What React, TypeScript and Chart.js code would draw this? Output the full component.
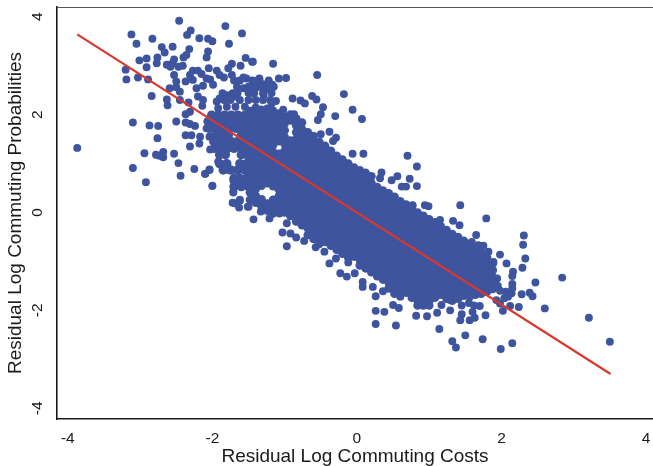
import React, { useEffect, useRef } from "react";
import { Chart, registerables } from "chart.js";

Chart.register(...registerables);

const fitLineX = [-3.87, 3.51];
const fitLineY = [3.64, -3.3];
const xTicks = [-4, -2, 0, 2, 4];
const yTicks = [-4, -2, 0, 2, 4];

const upperLeftPoints: number[][] = [
[-3.87,1.32],[-3.10,1.84],[-2.87,1.78],[-2.75,1.77],[-2.76,1.52],[-2.94,1.21],[-3.10,0.91],[-2.92,0.62],[-2.78,1.18],[-2.73,1.16],[-2.68,1.24],[-2.68,1.13],[-2.53,1.20],[-2.47,1.01],[-2.44,0.75],[-2.25,0.89],[-2.10,0.79],[-2.04,0.87],[-2.00,0.54],[-2.84,2.38],[-3.19,2.72],[-3.20,2.92],[-3.03,2.76],[-2.89,2.72],[-3.01,3.11],[-2.91,3.15],[-2.91,2.97],[-2.76,3.17],[-2.77,3.05],[-3.12,3.64],[-3.05,3.45],[-2.83,3.55],[-2.70,3.38],[-2.66,3.27],[-2.55,3.39],[-2.46,3.92],[-2.35,3.63],[-2.30,3.72],[-2.18,3.56],[-2.06,3.55],[-2.00,3.50],[-1.82,3.81],[-1.59,3.66],[-1.77,3.45],[-2.32,3.34],[-2.36,3.22],[-2.06,3.29],[-2.08,3.17],[-2.40,3.17],[-2.53,3.13],[-2.55,3.05],[-2.63,3.02],[-2.58,2.98],[-2.47,2.98],[-2.41,3.00],[-2.05,2.95],[-1.54,3.16],[-1.45,3.08],[-1.61,3.00],[-1.73,3.04],[-1.78,2.95],[-1.94,2.90],[-1.90,2.81],[-1.84,2.76],[-1.73,2.81],[-1.57,2.76],[-1.53,2.74],[-1.35,2.72],[-2.27,2.90],[-2.20,2.90],[-2.31,2.81],[-2.15,2.83],[-2.53,2.81],[-2.50,2.68],[-2.37,2.68],[-2.27,2.71],[-2.08,2.74],[-2.03,2.72],[-2.59,2.54],[-2.50,2.56],[-2.45,2.47],[-2.22,2.54],[-2.13,2.59],[-1.99,2.61],[-2.63,2.31],[-2.62,2.19],[-2.45,2.30],[-2.33,2.25],[-2.20,2.37],[-2.13,2.30],[-2.14,2.18],[-1.90,2.33],[-1.80,2.40],[-1.94,2.27],[-1.69,2.37],[-1.57,2.54],[-1.43,2.47],[-1.30,2.57],[-2.31,2.06],[-2.37,2.01],[-2.50,1.86],[-2.37,1.84],[-2.31,1.81],[-2.24,1.77],[-2.37,1.58],[-2.29,1.58],[-2.31,1.35],[-2.17,1.55],[-2.18,1.41],[-2.04,1.55],[-1.99,1.45],[-2.03,1.29],[-2.08,1.72],[-1.92,1.04],[-1.83,0.87],[-1.69,0.63],[-1.71,0.43],[-1.69,0.19],[-1.62,0.26],[-1.50,0.12]
];

const clusterAboveBreak: number[][] = [
[-1.84,2.3],[-1.75,2.3],[-1.62,2.3],[-1.5,2.3],[-1.4,2.3],[-1.3,2.3],[-1.2,2.3],
[-1.86,2.44],[-1.72,2.44],[-1.65,2.44],[-1.5,2.44],[-1.42,2.44],[-1.3,2.44],[-1.18,2.44],
[-1.66,2.57],[-1.5,2.57],[-1.45,2.57],[-1.35,2.57],[-1.25,2.57],[-1.15,2.57],
[-1.7,2.7],[-1.62,2.7],[-1.45,2.7],[-1.22,2.7],
[-1.8,2.16],[-1.68,2.16],[-1.55,2.16],[-1.92,2.13]
];

const clusterNearBreak: number[][] = [
[-2.01,1.99],[-1.92,1.99],[-1.83,1.99],[-1.74,1.99],[-1.65,1.99],[-1.55,1.99],[-1.46,1.99],[-1.37,1.99],[-1.28,1.99],
[-2.06,1.86],[-1.97,1.86],[-1.87,1.86],[-1.78,1.86],[-1.69,1.86],[-1.6,1.86],[-1.5,1.86],[-1.41,1.86],[-1.32,1.86],[-1.23,1.86],
[-2.04,1.72],[-1.94,1.72],[-1.85,1.72],[-1.76,1.72],[-1.67,1.72],[-1.58,1.72],[-1.48,1.72],[-1.39,1.72],[-1.3,1.72],
[-1.96,1.58],[-1.87,1.58],[-1.78,1.58],[-1.6,1.58],[-1.5,1.58],[-1.41,1.58],[-1.32,1.58],[-1.23,1.58],
[-1.92,1.45],[-1.83,1.45],[-1.74,1.45],[-1.65,1.45],[-1.55,1.45],[-1.46,1.45],[-1.37,1.45],[-1.28,1.45],
[-1.97,1.31],[-1.88,1.31],[-1.79,1.31],[-1.7,1.31],[-1.6,1.31],[-1.51,1.31],[-1.42,1.31],[-1.33,1.31],
[-1.9,1.18],[-1.82,1.18],[-1.6,1.18],[-1.52,1.18],[-1.43,1.18],[-1.34,1.18],
[-1.9,1.0],[-1.8,1.0],[-1.62,1.0],[-1.53,1.0],[-1.44,1.0],[-1.35,1.0],
[-1.85,0.87],[-1.75,0.87],[-1.65,0.87],[-1.55,0.87],[-1.46,0.87],[-1.37,0.87],
[-1.7,0.7],[-1.62,0.7],[-1.53,0.7],[-1.44,0.7],
[-1.7,0.53],[-1.6,0.53],[-1.5,0.53],[-1.42,0.53]
];

const upperEdgePoints: number[][] = [
[-1.16,3.04],[-1.44,3.08],[-0.55,2.81],[-0.98,2.75],[-1.08,2.74],[-1.35,2.74],[-1.40,2.69],[-1.30,2.62],[-1.17,2.61],[-1.25,2.52],[-1.41,2.54],[-1.44,2.44],[-1.29,2.40],[-0.89,2.33],[-0.78,2.29],[-0.72,2.23],[-0.62,2.38],[-0.56,2.31],[-0.18,2.42],[-0.06,2.10],[0.07,1.91],[-0.30,1.97],[-0.47,2.15],[-0.50,2.01],[-0.54,1.89],[-1.12,2.28],[-1.18,2.23],[-1.02,2.10],[-0.87,2.01],[-0.77,1.82],[-0.50,1.60],[-0.38,1.65],[-0.29,1.53],[-0.33,1.46],[0.09,1.20],[-0.06,1.20],[0.70,1.16],[0.83,0.94],
[0.34,0.82],[0.32,0.70],[0.56,0.74],[0.48,0.66],[0.73,0.69],[0.62,0.53],[0.68,0.53],[0.83,0.54],[0.77,0.14],[0.77,0.15],[0.94,0.15],[0.99,0.13],[1.43,0.15],[1.79,-0.12],[1.15,-0.15],[1.33,-0.17],[1.42,-0.26],[1.65,-0.46],[1.59,-0.60],[1.56,-0.67],[1.68,-0.67],[1.75,-0.68],[1.82,-0.80],[1.98,-0.86],[1.89,-1.01],[2.07,-1.04]
];

const lowerEdgePoints: number[][] = [
[-0.97,-0.69],[-1.03,-0.41],[-0.97,-0.22],[-0.92,-0.43],[-0.84,-0.51],[-0.73,-0.58],[-1.43,-0.14],[-1.33,0.02],[-1.51,0.12],[-1.63,0.10],[-1.72,0.20],[-1.62,0.24],[-2.00,0.55],[-2.10,0.79],[-2.04,0.88],[-1.71,0.41],[-1.71,0.66],[-1.56,0.6],[-1.21,-0.12],[-1.07,-0.02],[-0.57,-0.71],[-0.45,-0.80],[-0.38,-1.04],[-0.29,-0.94],[-0.12,-1.02],[-0.23,-1.24],[-0.14,-1.31],[-0.03,-1.24],[0.08,-1.52],[0.08,-1.42],[0.22,-1.52],[0.26,-1.71],[0.36,-1.61],[0.26,-2.01],[0.38,-2.03],[0.26,-2.28],[0.54,-2.31],[0.58,-1.95],[0.50,-1.89],[0.82,-2.11],[0.60,-1.72],[0.78,-1.72],[0.97,-2.12],[1.11,-2.05],[1.17,-1.89],[1.29,-2.0],[1.29,-1.79],[1.14,-2.38],[1.32,-2.63],[1.37,-2.76],[1.50,-2.51],[1.74,-2.59],[1.99,-2.79],[2.15,-2.67],[1.43,-2.20],[1.45,-2.08],[1.56,-2.20],[1.60,-2.03],[1.63,-2.15],[1.70,-1.91],[1.78,-2.10],[1.45,-1.9],[1.55,-1.85],[1.62,-1.9]
];

const lowerRightPoints: number[][] = [
[3.50,-2.64],[3.21,-2.15],[2.84,-1.33],[2.60,-1.96],[2.47,-1.43],[2.43,-1.71],[2.39,-1.64],[2.28,-1.67],[2.24,-1.93],[2.33,-0.94],[2.29,-1.13],[2.30,-0.66],[2.31,-0.47],[2.16,-1.21],[2.15,-1.30],[2.15,-1.46],[2.15,-1.55],[2.14,-1.65],[2.09,-1.72],[2.06,-1.62],[2.12,-1.91],[2.02,-2.01],[1.98,-1.86],[1.93,-1.79],[1.94,-1.35],[1.95,-1.5],[1.98,-1.6],[2.04,-1.75]
];

const coreColumnX = [-1.48,-1.4,-1.32,-1.24,-1.16,-1.08,-1,-0.92,-0.84,-0.76,-0.68,-0.6,-0.52,-0.44,-0.36,-0.28,-0.2,-0.12,-0.04,0.04,0.12,0.2,0.28,0.36,0.44,0.52,0.6,0.68,0.76,0.84,0.92,1,1.08,1.16,1.24,1.32,1.4,1.48,1.56,1.64,1.72,1.8,1.88];
const coreColumnY: number[][] = [
[2.07,1.93,1.8,1.52,1.39,1.24,1.11,0.97,0.83,0.54,0.41,0.26],
[2.14,2,1.86,1.73,1.59,1.45,1.31,1.17,1.04,0.9,0.76,0.62,0.48,0.34,0.2],
[2.1,1.96,1.81,1.68,1.54,1.4,1.25,1.12,0.98,0.83,0.7,0.55,0.27,0.13],
[2.12,1.99,1.85,1.71,1.57,1.43,1.3,1.16,1.02,0.88,0.74,0.6,0.18,0.04],
[2.08,1.93,1.8,1.65,1.52,1.38,1.24,1.09,0.96,0.81,0.68,0.54,0.26,0.12,-0.02],
[2.02,1.88,1.74,1.6,1.46,1.2,1.03,0.89,0.75,0.61,0.47,0.33,0.19,0.05],
[1.96,1.82,1.68,1.54,1.4,1.26,1.12,0.98,0.84,0.7,0.56,0.42,0.28,0.14,0],
[2,1.88,1.47,1.33,1.19,1.05,0.91,0.77,0.63,0.49,0.35,0.21,0.07,-0.07],
[1.92,1.78,1.64,1.5,1.36,1.22,1.08,0.94,0.8,0.66,0.52,0.38,0.24,0.1,-0.04,-0.18],
[1.84,1.7,1.56,1.42,1.28,1.14,1,0.86,0.72,0.58,0.44,0.3,0.16,0.02,-0.12,-0.26],
[1.64,1.5,1.36,1.22,1.08,0.94,0.8,0.66,0.52,0.38,0.24,0.1,-0.04,-0.18,-0.32,-0.46],
[1.56,1.42,1.28,1.14,1,0.86,0.72,0.58,0.44,0.3,0.16,0.02,-0.12,-0.26,-0.4,-0.54],
[1.44,1.3,1.16,1.02,0.88,0.74,0.6,0.46,0.32,0.18,0.04,-0.1,-0.24,-0.38,-0.52,-0.64],
[1.36,1.22,1.08,0.94,0.8,0.66,0.52,0.38,0.24,0.1,-0.04,-0.18,-0.32,-0.46,-0.6],
[1.26,1.12,0.98,0.84,0.7,0.56,0.42,0.28,0.14,0,-0.14,-0.28,-0.42,-0.56,-0.68],
[1.16,1.02,0.88,0.74,0.6,0.46,0.32,0.18,0.04,-0.1,-0.24,-0.38,-0.52,-0.66,-0.76],
[1.08,0.94,0.8,0.66,0.52,0.38,0.24,0.1,-0.04,-0.18,-0.32,-0.46,-0.6,-0.74,-0.84],
[1,0.86,0.72,0.58,0.44,0.3,0.16,0.02,-0.12,-0.26,-0.4,-0.54,-0.68,-0.82,-0.92],
[0.92,0.78,0.64,0.5,0.36,0.22,0.08,-0.06,-0.2,-0.34,-0.48,-0.62,-0.76,-0.9],
[0.86,0.72,0.58,0.44,0.3,0.16,0.02,-0.12,-0.26,-0.4,-0.54,-0.68,-0.82,-0.96,-1.08],
[0.81,0.67,0.53,0.39,0.25,0.11,-0.03,-0.17,-0.31,-0.45,-0.59,-0.73,-0.87,-1.01,-1.14],
[0.74,0.6,0.46,0.32,0.18,0.04,-0.1,-0.24,-0.38,-0.52,-0.66,-0.8,-0.94,-1.08,-1.22],
[0.52,0.38,0.24,0.1,-0.04,-0.18,-0.32,-0.46,-0.6,-0.74,-0.88,-1.02,-1.16,-1.3],
[0.45,0.31,0.17,0.03,-0.11,-0.25,-0.39,-0.53,-0.67,-0.81,-0.95,-1.09,-1.23,-1.37],
[0.39,0.25,0.11,-0.03,-0.17,-0.31,-0.45,-0.59,-0.73,-0.87,-1.01,-1.15,-1.29,-1.43,-1.55],
[0.32,0.18,0.04,-0.1,-0.24,-0.38,-0.52,-0.66,-0.8,-0.94,-1.08,-1.22,-1.36,-1.5,-1.66],
[0.23,0.09,-0.05,-0.19,-0.33,-0.47,-0.61,-0.75,-0.89,-1.03,-1.17,-1.31,-1.45,-1.59],
[0.16,0.02,-0.12,-0.26,-0.4,-0.54,-0.68,-0.82,-0.96,-1.1,-1.24,-1.38,-1.52,-1.64],
[0.08,-0.06,-0.2,-0.34,-0.48,-0.62,-0.76,-0.9,-1.04,-1.18,-1.32,-1.46,-1.6,-1.74],
[0,-0.14,-0.28,-0.42,-0.56,-0.7,-0.84,-0.98,-1.12,-1.26,-1.4,-1.54,-1.68,-1.8,-1.9],
[-0.07,-0.21,-0.35,-0.49,-0.63,-0.77,-0.91,-1.05,-1.19,-1.33,-1.47,-1.61,-1.75,-1.9],
[-0.14,-0.28,-0.42,-0.56,-0.7,-0.84,-0.98,-1.12,-1.26,-1.4,-1.54,-1.68,-1.82,-1.9],
[-0.2,-0.34,-0.48,-0.62,-0.76,-0.9,-1.04,-1.18,-1.32,-1.46,-1.6,-1.74],
[-0.28,-0.42,-0.56,-0.7,-0.84,-0.98,-1.12,-1.26,-1.4,-1.54,-1.68],
[-0.36,-0.5,-0.64,-0.78,-0.92,-1.06,-1.2,-1.34,-1.48,-1.62,-1.76],
[-0.44,-0.58,-0.72,-0.86,-1,-1.14,-1.28,-1.42,-1.56,-1.7,-1.8],
[-0.5,-0.64,-0.78,-0.92,-1.06,-1.2,-1.34,-1.48,-1.62,-1.76],
[-0.58,-0.72,-0.86,-1,-1.14,-1.28,-1.42,-1.56,-1.7],
[-0.68,-0.82,-0.96,-1.1,-1.24,-1.38,-1.52,-1.66,-1.72],
[-0.74,-0.88,-1.02,-1.16,-1.3,-1.44,-1.58,-1.68],
[-0.82,-0.96,-1.1,-1.24,-1.38,-1.52,-1.66],
[-0.92,-1.06,-1.2,-1.34,-1.48,-1.62],
[-1.04,-1.18,-1.32,-1.46,-1.56]
];

const coreFromColumns = coreColumnX.flatMap((x, i) => coreColumnY[i].map((y) => ({ x, y })));
const fromPairs = (rows: number[][]) => rows.map(([x, y]) => ({ x, y }));
const commuters = [
  ...fromPairs(upperLeftPoints),
  ...fromPairs(clusterAboveBreak),
  ...fromPairs(upperEdgePoints),
  ...fromPairs(lowerEdgePoints),
  ...fromPairs(lowerRightPoints),
];
const fitLine = fitLineX.map((x, i) => ({ x, y: fitLineY[i] }));

const FONT = "'Liberation Sans', Arial, sans-serif";
const INK = "#1a1a1a";
const DOT = "#3e549e";

const framePlugin = {
  id: "frame",
  afterDraw(chart: any) {
    const { ctx, chartArea: a } = chart;
    ctx.save();
    ctx.strokeStyle = "#555555";
    ctx.lineWidth = 1;
    ctx.beginPath();
    ctx.moveTo(a.left, a.top + 0.5);
    ctx.lineTo(a.right, a.top + 0.5);
    ctx.stroke();
    ctx.restore();
  },
};

const clearPadding = (s: any) => {
  s.paddingLeft = 0;
  s.paddingRight = 0;
  s.paddingTop = 0;
  s.paddingBottom = 0;
};

export default function App() {
  const ref = useRef<HTMLCanvasElement>(null);
  useEffect(() => {
    const chart = new Chart(ref.current!, {
      type: "scatter",
      data: {
        datasets: [
          { data: fitLine, showLine: true, borderColor: "#d8392f", borderWidth: 2.2, pointRadius: 0, order: 0 },
          { data: commuters, backgroundColor: DOT, borderWidth: 0, pointRadius: 3.95, order: 1 },
          { data: coreFromColumns, backgroundColor: DOT, borderWidth: 0, pointRadius: 4.35, order: 2 },
          { data: fromPairs(clusterNearBreak), backgroundColor: DOT, borderWidth: 0, pointRadius: 4.7, order: 3 },
        ],
      },
      options: {
        animation: false,
        responsive: false,
        devicePixelRatio: 1,
        layout: { autoPadding: false, padding: { top: 7, left: 0, right: 0, bottom: 0 } },
        plugins: { legend: { display: false }, tooltip: { enabled: false } },
        scales: {
          x: {
            type: "linear",
            min: -4.15,
            max: 4.097,
            afterFit: (s: any) => { s.height = 47; clearPadding(s); },
            afterBuildTicks: (s: any) => { s.ticks = xTicks.map((value) => ({ value })); },
            grid: { display: false, drawTicks: true, tickLength: 7, tickColor: INK, tickWidth: 1 } as any,
            border: { display: true, color: INK, width: 1.6 },
            ticks: { color: INK, font: { family: FONT, size: 15.5 }, padding: 3, maxRotation: 0 },
            title: { display: true, text: "Residual Log Commuting Costs", color: INK, font: { family: FONT, size: 19, lineHeight: 1 }, padding: { top: 0, bottom: 0 } },
          },
          y: {
            type: "linear",
            min: -4.22,
            max: 4.2,
            afterFit: (s: any) => { s.width = 57; clearPadding(s); },
            afterBuildTicks: (s: any) => { s.ticks = yTicks.map((value) => ({ value })); },
            grid: { display: false, drawTicks: true, tickLength: 7, tickColor: INK, tickWidth: 1 } as any,
            border: { display: true, color: INK, width: 1.6 },
            ticks: { color: INK, font: { family: FONT, size: 15.5 }, padding: 5, minRotation: 90, maxRotation: 90, crossAlign: "center" },
            title: { display: true, text: "Residual Log Commuting Probabilities", color: INK, font: { family: FONT, size: 19, lineHeight: 1 }, padding: { top: 6.5, bottom: 0 } },
          },
        },
      } as any,
      plugins: [framePlugin],
    });
    return () => chart.destroy();
  }, []);
  return (
    <div style={{ position: "fixed", left: 0, top: 0, width: 653, height: 466, background: "#fff" }}>
      <canvas ref={ref} width={653} height={466} style={{ display: "block", width: 653, height: 466 }} />
    </div>
  );
}
